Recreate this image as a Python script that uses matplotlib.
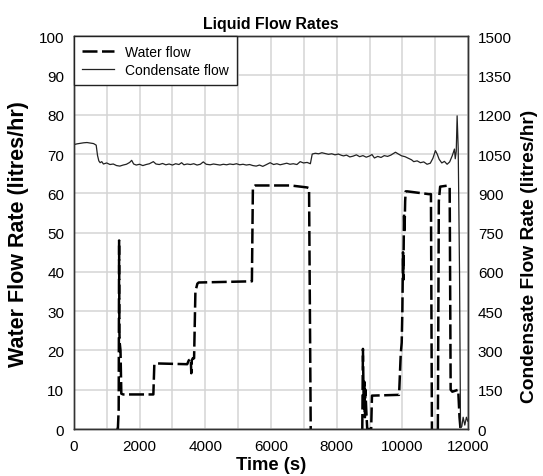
import matplotlib

matplotlib.use("Agg")
import matplotlib.pyplot as plt
from matplotlib.ticker import MultipleLocator

plt.rcParams["font.family"] = ["Liberation Sans", "DejaVu Sans"]

nan = float("nan")  # breaks the line where no water was logged

# water flow, litres/hr (left axis)
water_t = [1300, 1340, 1365, 1378, 1386, 1395, 1420, 1445, 1500, 2420, 2450,
           2500, 3450, 3500, 3560, 3575, 3590, 3620, 3660, 3700, 3760, 3800,
           5420, 5450, 5520, 6600, 7100, 7160, 7210, 8000, 8780, 8800, 8815,
           8830, 8845, 8860, 8875, 8900, 8930, 9050, 9075, 9900, 9950, 9980,
           10000, 10020, 10030, 10050, 10065, 10085, 10100, 10150, 10800,
           10870, 10900, 11000, 11080, 11110, 11150, 11400, 11440, 11470,
           11520, 11700, 11740, 11770]
water_v = [0, 0, 5, 48, 25, 22, 20, 9, 8.8, 8.8, 16.5,
           16.7, 16.5, 17.5, 17.8, 14.2, 17.5, 18, 18, 35, 37, 37.3,
           37.6, 61.5, 62, 62, 61.5, 61.3, 0, nan, 0, 20.4, 11,
           6, 12, 3, 10, 5, 0, 0, 8.5, 8.7, 19, 22,
           30, 45, 38, 55, 50, 58, 60.5, 60.5, 59.8,
           59.8, 0, nan, 0, 58, 61.7, 62, 61.5, 10,
           9.5, 10, 3, 0]

# condensate flow, litres/hr (right axis)
cond_t = [0, 100, 200, 300, 400, 500, 600, 680, 720, 760,
          800, 850, 900, 1000, 1100, 1200, 1300, 1400, 1500, 1600,
          1700, 1760, 1820, 1900, 2000, 2100, 2200, 2300, 2420, 2500,
          2600, 2700, 2800, 2900, 3000, 3100, 3200, 3280, 3350, 3450,
          3550, 3650, 3750, 3850, 3940, 4030, 4150, 4250, 4350, 4450,
          4550, 4650, 4750, 4850, 4950, 5050, 5150, 5250, 5350, 5450,
          5550, 5650, 5750, 5850, 5975, 6080, 6180, 6280, 6380, 6480,
          6580, 6680, 6790, 6890, 6990, 7100, 7200, 7256, 7350, 7450,
          7550, 7650, 7750, 7850, 7950, 8050, 8150, 8210, 8300, 8400,
          8500, 8600, 8700, 8800, 8900, 8990, 9075, 9150, 9250, 9350,
          9450, 9550, 9650, 9790, 9880, 9980, 10080, 10180, 10280, 10346,
          10450, 10550, 10650, 10752, 10850, 10930, 11006, 11060, 11120, 11200,
          11280, 11362, 11440, 11520, 11586, 11610, 11640, 11667, 11700, 11740,
          11770, 11810, 11850, 11900, 11950, 11990]
cond_v = [1086, 1089, 1091, 1093, 1094, 1092, 1090, 1084, 1045, 1024,
          1017, 1021, 1012, 1016, 1010, 1012, 1006, 1004, 1008, 1011,
          1018, 1026, 1012, 1008, 1011, 1006, 1010, 1013, 1021, 1012,
          1010, 1014, 1009, 1012, 1008, 1013, 1010, 1017, 1009, 1012,
          1010, 1013, 1008, 1011, 1020, 1011, 1009, 1012, 1010, 1008,
          1011, 1009, 1012, 1010, 1013, 1009, 1011, 1008, 1010, 1006,
          1004, 1008, 1003, 1009, 1017, 1010, 1013, 1009, 1012, 1015,
          1011, 1013, 1010, 1021, 1016, 1018, 1013, 1050, 1053, 1051,
          1055, 1052, 1049, 1051, 1047, 1050, 1045, 1043, 1046, 1039,
          1042, 1047, 1040, 1044, 1038, 1042, 1048, 1035, 1041, 1037,
          1044, 1041, 1046, 1057, 1050, 1043, 1040, 1034, 1028, 1021,
          1024, 1017, 1020, 1011, 1015, 1034, 1063, 1050, 1030, 1016,
          1022, 1011, 1020, 1044, 1069, 1032, 1060, 1196, 1070, 600,
          5, 10, 45, 15, 45, 30]

xticks = [0, 2000, 4000, 6000, 8000, 10000, 12000]

fig, ax = plt.subplots(figsize=(5.43, 4.77), dpi=100)
fig.subplots_adjust(left=0.136, right=0.862, bottom=0.0985, top=0.922)
ax2 = ax.twinx()

(lw,) = ax.plot(water_t, water_v, color="black", lw=1.8, dashes=(6, 1.8),
                label="Water flow")
(lc,) = ax2.plot(cond_t, cond_v, color="#222222", lw=0.9,
                 label="Condensate flow")

ax.set_xlim(0, 12000)
ax.set_ylim(0, 100)
ax2.set_ylim(0, 1500)
ax.set_xticks(xticks)
ax.xaxis.set_minor_locator(MultipleLocator(1000))
ax.yaxis.set_major_locator(MultipleLocator(10))
ax2.yaxis.set_major_locator(MultipleLocator(150))

ax.grid(True, which="both", color="#d4d4d4", lw=1.1)
ax.set_axisbelow(True)
for a in (ax, ax2):
    a.tick_params(which="both", length=0, labelsize=11, pad=7)
    for s in a.spines.values():
        s.set_color("#333333")
        s.set_linewidth(1.0)

ax.set_xlabel("Time (s)", fontsize=13.2, fontweight="bold", labelpad=2)
ax.set_ylabel("Water Flow Rate (litres/hr)", fontsize=15.5,
              fontweight="bold", labelpad=7)
ax2.set_ylabel("Condensate Flow Rate (litres/hr)", fontsize=13.8,
               fontweight="bold")
ax2.yaxis.set_label_coords(1.135, 0.443)
ax.set_title("Liquid Flow Rates", fontsize=11.4, fontweight="bold", pad=6)

leg = ax2.legend([lw, lc], ["Water flow", "Condensate flow"], loc="upper left",
                 fontsize=10, fancybox=False, framealpha=1, edgecolor="#222222",
                 borderaxespad=0, handlelength=2.3, borderpad=0.6,
                 labelspacing=0.3)
leg.get_frame().set_linewidth(1.0)

fig.savefig("out.png", dpi=100)
